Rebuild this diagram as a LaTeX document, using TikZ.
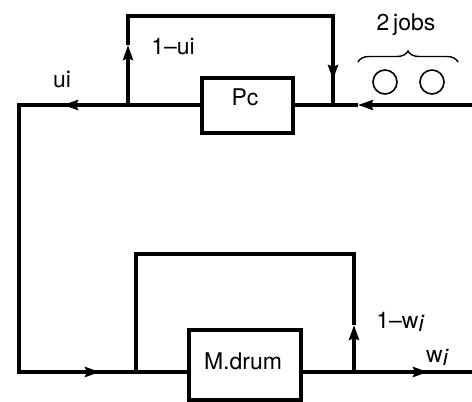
\documentclass[tikz,border=0pt]{standalone}
\usepackage{fontspec}
\setmainfont{TeX Gyre Heros}
\usetikzlibrary{arrows.meta,decorations.pathreplacing}
\begin{document}
\begin{tikzpicture}[x=1pt,y=-1pt,
  wire/.style={line width=3.4pt},
  tip/.style={wire,-{Stealth[length=15pt,width=10pt,inset=2pt]}},
  boxnode/.style={draw,line width=3.4pt,inner sep=0pt},
  lbl/.style={inner sep=0pt,font=\fontsize{23}{26}\selectfont},
  token/.style={draw,circle,line width=1.6pt,minimum size=24pt,inner sep=0pt}]
\useasboundingbox (0,0) rectangle (472,402);
% boxes
\node[boxnode,minimum width=91pt,minimum height=55pt] (pc) at (247.5,105.5) {};
\node[lbl] (pctext) at (245,97) {Pc};
\node[boxnode,minimum width=112pt,minimum height=70pt] (md) at (245,365) {};
\node[lbl] (mdtext) at (243,361) {M.drum};
% coordinates
\coordinate (inR) at (474,105);
\coordinate (j1) at (333,105);
\coordinate (a1) at (358,105);
\coordinate (j2) at (128,105);
\coordinate (a2) at (63,105);
\coordinate (tl) at (19,105);
\coordinate (bl) at (19,372);
\coordinate (a3) at (100,372);
\coordinate (j3) at (136,372);
\coordinate (j4) at (354,372);
\coordinate (a4) at (428,372);
\coordinate (outR) at (474,372);
\coordinate (f1) at (128,16);
\coordinate (f2) at (333,16);
\coordinate (a5) at (128,45);
\coordinate (a6) at (333,80);
\coordinate (g1) at (136,254);
\coordinate (g2) at (354,254);
\coordinate (a7) at (354,325);
% top loop
\draw[tip] (inR) -- (a1);
\draw[wire] (a1) -- (pc.east |- j1);
\draw[wire] (pc.west |- j2) -- (j2) -- (a2);
\draw[tip] (j2) -- (a2);
\draw[wire,line join=miter] (a2) -- (tl) -- (bl) -- (a3);
\draw[tip] (bl) -- (a3);
\draw[wire] (a3) -- (md.west |- j3);
\draw[tip] (j2) -- (a5);
\draw[wire,line join=miter] (a5) -- (f1) -- (f2) -- (a6);
\draw[tip] (f2) -- (a6);
\draw[wire] (a6) -- (j1);
% bottom loop
\draw[wire] (md.east |- j4) -- (j4) -- (a4);
\draw[tip] (j4) -- (a4);
\draw[wire] (a4) -- (outR);
\draw[tip] (j4) -- (a7);
\draw[wire,line join=miter] (a7) -- (g2) -- (g1) -- (j3);
% labels
\node[lbl] (lui) at (62,80) {ui};
\node[lbl] (l1ui) at (173,47) {1--ui};
\node[lbl] (ljobs) at (406,25) {2\,jobs};
\node[lbl] (l1wi) at (400,322) {1--w\raisebox{-3pt}{\itshape i}};
\node[lbl] (lwi) at (437,357) {w\raisebox{-3pt}{\itshape i}};
% jobs
\node[token] (t1) at (385,82) {};
\node[token] (t2) at (432,82) {};
\coordinate (b1) at (358,62);
\coordinate (b2) at (458,62);
\draw[line width=1.4pt,decorate,decoration={brace,amplitude=11pt}] (b1) -- (b2);
\end{tikzpicture}
\end{document}
